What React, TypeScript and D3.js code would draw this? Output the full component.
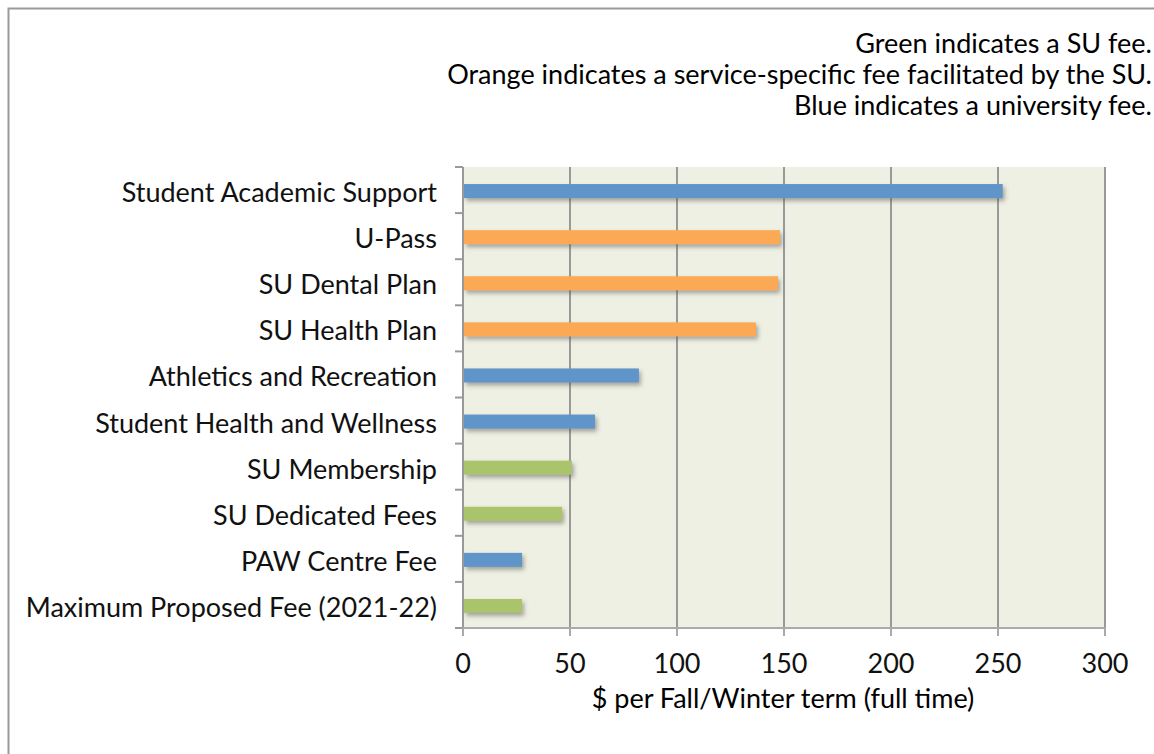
import React from "react";
import * as d3 from "d3";

const categories = [
  "Student Academic Support",
  "U-Pass",
  "SU Dental Plan",
  "SU Health Plan",
  "Athletics and Recreation",
  "Student Health and Wellness",
  "SU Membership",
  "SU Dedicated Fees",
  "PAW Centre Fee",
  "Maximum Proposed Fee (2021-22)",
];
const values = [252.2, 148.1, 147.2, 136.9, 82.2, 61.7, 50.9, 46.3, 27.6, 27.6];
const feeTypes = ["uni", "svc", "svc", "svc", "uni", "uni", "su", "su", "uni", "su"];
const xTicks = [0, 50, 100, 150, 200, 250, 300];
const legendLines = [
  "Green indicates a SU fee.",
  "Orange indicates a service-specific fee facilitated by the SU.",
  "Blue indicates a university fee.",
];
const axisTitle = "$ per Fall/Winter term (full time)";

const colorMap: Record<string, string> = { uni: "#5f95c8", svc: "#fba955", su: "#a9c46a" };

export default function App() {
  const W = 1154, H = 754;
  const left = 463, right = 1105, top = 167, bottom = 628;
  const x = d3.scaleLinear().domain([0, 300]).range([left, right]);
  const y = d3.scaleBand<string>().domain(categories).range([top, bottom]);
  const bw = y.bandwidth();
  const barH = 14;
  const font = "Lato, 'Open Sans', sans-serif";
  const fs = 27;
  const bounds = d3.range(categories.length + 1).map((i) => top + i * bw);
  return (
    <svg width={W} height={H} style={{ position: "absolute", left: 0, top: 0, background: "#fff" }}>
      <defs>
        <filter id="sh" x="-10%" y="-50%" width="130%" height="250%">
          <feDropShadow dx="2" dy="3" stdDeviation="2" floodColor="#555" floodOpacity="0.5" />
        </filter>
      </defs>
      <rect x={8.5} y={8.5} width={W + 20} height={H + 20} fill="none" stroke="#9a9a9a" strokeWidth={2} />
      <rect x={left} y={top} width={right - left} height={bottom - top} fill="#eef0e3" />
      {xTicks.slice(1).map((t) => (
        <line key={t} x1={x(t)} x2={x(t)} y1={top} y2={bottom} stroke="#999" strokeWidth={2} />
      ))}
      {categories.map((c, i) => (
        <rect
          key={c}
          x={x(0) + 1}
          y={y(c)! + bw / 2 - barH / 2 + 1}
          width={x(values[i]) - x(0) - 1}
          height={barH}
          fill={colorMap[feeTypes[i]]}
          filter="url(#sh)"
        />
      ))}
      <line x1={left} x2={left} y1={top} y2={bottom + 8} stroke="#999" strokeWidth={2} />
      <line x1={left - 8} x2={right} y1={bottom} y2={bottom} stroke="#aaa" strokeWidth={2} />
      {bounds.map((b, i) => (
        <line key={i} x1={left - 8} x2={left} y1={b} y2={b} stroke="#999" strokeWidth={2} />
      ))}
      {xTicks.map((t) => (
        <line key={t} x1={x(t)} x2={x(t)} y1={bottom} y2={bottom + 8} stroke="#aaa" strokeWidth={2} />
      ))}
      {xTicks.map((t) => (
        <text key={t} x={x(t)} y={673} textAnchor="middle" fontFamily={font} fontSize={fs} fill="#111">
          {t}
        </text>
      ))}
      {categories.map((c) => (
        <text key={c} x={437} y={y(c)! + bw / 2 + 12} textAnchor="end" fontFamily={font} fontSize={fs} fill="#111">
          {c}
        </text>
      ))}
      <text x={783} y={708} textAnchor="middle" fontFamily={font} fontSize={fs} fill="#000">
        {axisTitle}
      </text>
      {legendLines.map((l, i) => (
        <text key={i} x={1152} y={53 + i * 31} textAnchor="end" fontFamily={font} fontSize={fs} fill="#000">
          {l}
        </text>
      ))}
    </svg>
  );
}
